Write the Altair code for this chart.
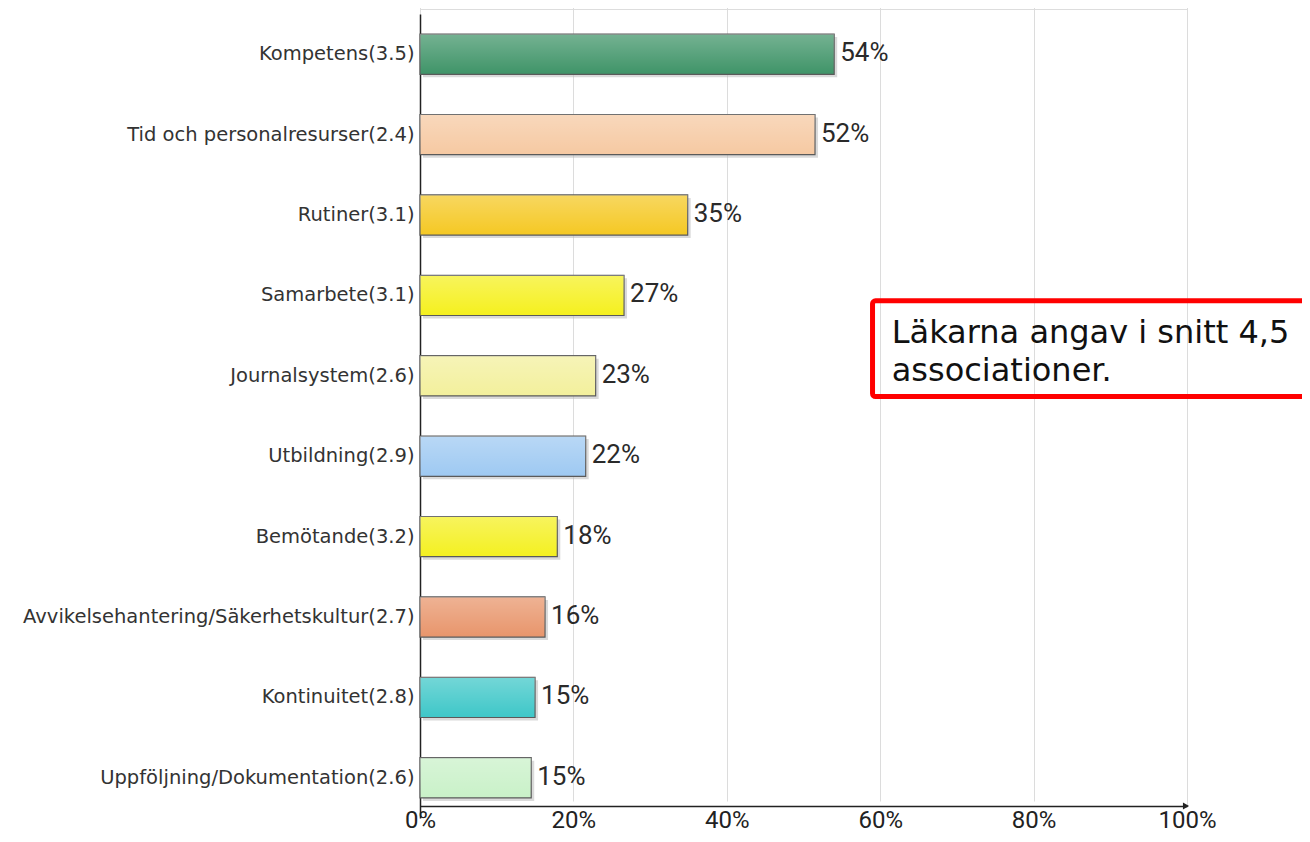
import altair as alt
import pandas as pd

categories = [
    "Kompetens(3.5)",
    "Tid och personalresurser(2.4)",
    "Rutiner(3.1)",
    "Samarbete(3.1)",
    "Journalsystem(2.6)",
    "Utbildning(2.9)",
    "Bemötande(3.2)",
    "Avvikelsehantering/Säkerhetskultur(2.7)",
    "Kontinuitet(2.8)",
    "Uppföljning/Dokumentation(2.6)",
]
values = [54.0, 51.5, 34.9, 26.6, 22.9, 21.6, 17.9, 16.3, 15.0, 14.5]
labels = ["54%", "52%", "35%", "27%", "23%", "22%", "18%", "16%", "15%", "15%"]
colors = [
    "#3f9468", "#f6c9a2", "#f5c823", "#f5f01e", "#f3f09c",
    "#9ec9f2", "#f4f020", "#e8956b", "#3ec7c8", "#c9f1c8",
]
tick_values = [0, 20, 40, 60, 80, 100]
note_lines = ["Läkarna angav i snitt 4,5", "associationer."]

NARROW = "Roboto"

df = pd.DataFrame({"cat": categories, "value": values, "label": labels})

y_enc = alt.Y(
    "cat:N",
    sort=categories,
    scale=alt.Scale(range=[5, 809], paddingInner=0.5, paddingOuter=0.25),
    axis=alt.Axis(
        title=None, ticks=False, labelFontSize=19.5, labelFont="DejaVu Sans",
        labelColor="#333333", labelPadding=6, domainColor="#222222",
        domainWidth=1.5, grid=False, labelLimit=600,
    ),
)
x_enc = alt.X(
    "value:Q",
    scale=alt.Scale(domain=[0, 100], nice=False),
    axis=alt.Axis(
        title=None, values=tick_values, labelExpr="datum.value + '%'",
        grid=True, gridColor="#dcdcdc", gridWidth=1, ticks=False,
        domainColor="#222222", domainWidth=1.5, labelFontSize=24,
        labelFont=NARROW, labelColor="#222222", labelPadding=2,
        labelFlush=False,
    ),
)

base = alt.Chart(df).encode(x=x_enc, y=y_enc)

shadow = base.mark_bar(color="#bcbcbc", opacity=0.55, xOffset=3, yOffset=3)
bars = base.mark_bar(stroke="#5a5a5a", strokeWidth=1.2).encode(
    color=alt.Color("cat:N", scale=alt.Scale(domain=categories, range=colors), legend=None)
)
sheen = base.mark_bar(
    color=alt.Gradient(
        gradient="linear",
        stops=[
            alt.GradientStop(color="rgba(255,255,255,0.28)", offset=0),
            alt.GradientStop(color="rgba(255,255,255,0)", offset=1),
        ],
        x1=0, x2=0, y1=0, y2=1,
    )
)
value_text = base.mark_text(
    align="left", baseline="middle", dx=6, dy=-1, fontSize=26,
    font=NARROW, color="#2a2a2a",
).encode(text="label:N")

box_df = pd.DataFrame({"x": [59.0], "x2": [125.0]})
box = alt.Chart(box_df).mark_rect(
    fill=None, fillOpacity=0, stroke="#ff0000", strokeWidth=5, cornerRadius=3
).encode(x="x:Q", x2="x2:Q", y=alt.value(291.8), y2=alt.value(387.5))

note_df = pd.DataFrame({"x": [61.5]})
note = alt.Chart(note_df).mark_text(
    text=note_lines, align="left", baseline="alphabetic", fontSize=32,
    lineHeight=38, font="DejaVu Sans", color="#111111",
).encode(x="x:Q", y=alt.value(333.7))

arrow_df = pd.DataFrame({"x": [100]})
arrow = alt.Chart(arrow_df).mark_point(
    shape="triangle-right", filled=True, size=50, color="#222222", opacity=1, xOffset=-1
).encode(x="x:Q", y=alt.value(797))

chart = (
    alt.layer(shadow, bars, sheen, value_text, box, note, arrow)
    .properties(
        width=767, height=797,
        autosize=alt.AutoSizeParams(type="none"),
        padding={"left": 412, "top": 1, "right": 115, "bottom": 28},
    )
    .configure_view(stroke=None)
    .configure(background="white")
)

chart.save("out.html", embed_options={"renderer": "svg", "actions": False})
